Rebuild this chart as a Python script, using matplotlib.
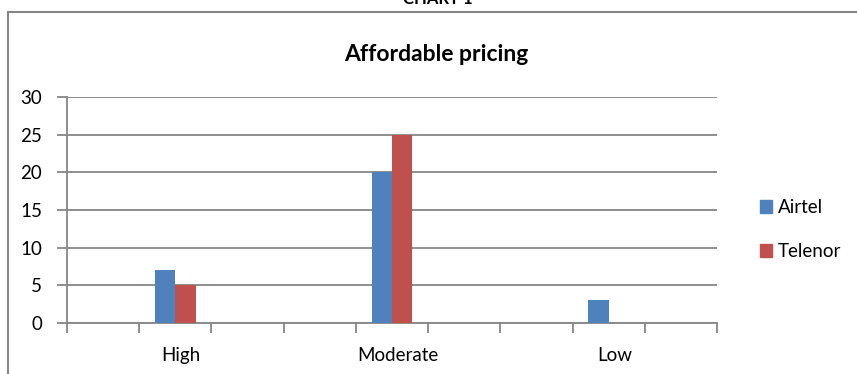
import matplotlib.pyplot as plt
import numpy as np
from matplotlib.lines import Line2D

categories = ['', 'High', '', '', 'Moderate', '', '', 'Low', '']
airtel = [np.nan, 7, np.nan, np.nan, 20, np.nan, np.nan, 3, np.nan]
telenor = [np.nan, 5, np.nan, np.nan, 25, np.nan, np.nan, 0, np.nan]
series = ['Airtel', 'Telenor']
colors = ['#4F81BD', '#C0504D']

plt.rcParams['font.family'] = ['Lato', 'DejaVu Sans']
grey = '#868686'

fig = plt.figure(figsize=(8.57, 3.74), dpi=100)
ax = fig.add_axes([67/857, 1-323/374, 650/857, 226/374])

x = np.arange(len(categories))
w = 0.283
ax.bar(x - w/2, airtel, width=w, color=colors[0], label=series[0], zorder=3)
ax.bar(x + w/2, telenor, width=w, color=colors[1], label=series[1], zorder=3)

ax.set_xlim(-0.5, len(categories) - 0.5)
ax.set_ylim(0, 30)
ax.set_yticks(np.arange(0, 31, 5))
ax.yaxis.grid(True, color=grey, lw=1.3, zorder=0)
ax.tick_params(axis='y', length=7, width=1.3, color=grey, pad=11, labelsize=13.5, labelcolor='black')

# boundaries between categories get the tick marks, labels sit in the middle
ax.set_xticks(np.arange(-0.5, len(categories), 1.0))
ax.set_xticklabels([])
ax.tick_params(axis='x', which='major', length=7, width=1.3, color=grey)
ax.set_xticks([i + 0.08 for i, c in enumerate(categories) if c], minor=True)
ax.set_xticklabels([c for c in categories if c], minor=True)
ax.tick_params(axis='x', which='minor', length=0, pad=17, labelsize=13.5)

for s in ['top', 'right']:
    ax.spines[s].set_visible(False)
for s in ['left', 'bottom']:
    ax.spines[s].set_color(grey)
    ax.spines[s].set_linewidth(1.3)

ax.set_title('Affordable pricing', fontsize=16.5, fontweight='bold', x=(436-67)/650, y=1.0, pad=26)

handles = [plt.Rectangle((0, 0), 1, 1, color=c) for c in colors]
fig.legend(handles, series, loc='upper left', bbox_to_anchor=(743/857, 1-182/374),
           frameon=False, fontsize=13.5, handlelength=0.65, handleheight=0.65,
           handletextpad=0.3, labelspacing=1.45)

# outer chart border (only left and top visible in the crop)
fig.add_artist(Line2D([8/857, 8/857], [0, 1-12/374], color=grey, lw=1.5))
fig.add_artist(Line2D([8/857, 1], [1-12/374, 1-12/374], color=grey, lw=1.5))
fig.text(438/857, 1-7/374, 'CHART 1', ha='center', va='bottom', fontsize=12, fontweight='bold')

fig.savefig('out.png', dpi=100)
